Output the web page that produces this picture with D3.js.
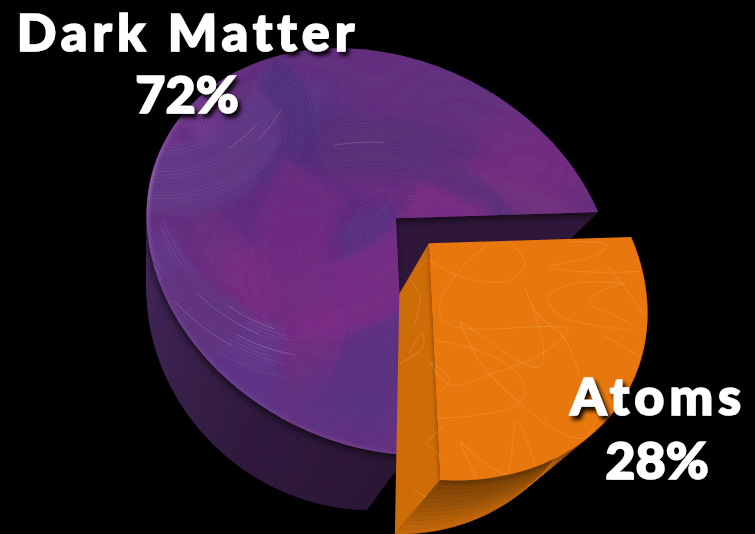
<!DOCTYPE html>
<html>
<head>
<meta charset="utf-8">
<script src="https://cdnjs.cloudflare.com/ajax/libs/d3/7.8.5/d3.min.js"></script>
<style>
html,body{margin:0;padding:0;background:#000;overflow:hidden}
svg{display:block}
text{font-family:Lato,"Open Sans",sans-serif;font-weight:900;fill:#fff;stroke:#fff;stroke-width:1.6;text-anchor:middle}
</style>
</head>
<body>
<svg id="chart" width="755" height="534"></svg>
<script>
// Share of the universe's matter
const categories = ["Dark Matter", "Atoms"];
const shares = [72, 28];

const svg = d3.select("#chart");
const defs = svg.append("defs");
svg.append("rect").attr("width", 755).attr("height", 534).attr("fill", "#000");

// Slice angles
const pie = d3.pie().sort(null).startAngle(Math.PI).endAngle(3 * Math.PI);
const arcs = pie(shares);
const [darkArc, atomArc] = arcs;
const disc = a => [Math.sin(a), -Math.cos(a)];

// Tilted view of the disc: a projective map solved from four rim anchors
function solve(A, b) {
  const n = b.length, M = A.map((r, i) => [...r, b[i]]);
  for (let i = 0; i < n; i++) {
    let p = i;
    for (let j = i + 1; j < n; j++) if (Math.abs(M[j][i]) > Math.abs(M[p][i])) p = j;
    [M[i], M[p]] = [M[p], M[i]];
    for (let j = 0; j < n; j++) {
      if (j === i) continue;
      const f = M[j][i] / M[i][i];
      for (let k = i; k <= n; k++) M[j][k] -= f * M[i][k];
    }
  }
  return M.map((r, i) => r[n] / r[i]);
}
function projective(src, dst) {
  const A = [], b = [];
  src.forEach(([x, y], i) => {
    const [u, v] = dst[i];
    A.push([x, y, 1, 0, 0, 0, -u * x, -u * y]); b.push(u);
    A.push([0, 0, 0, x, y, 1, -v * x, -v * y]); b.push(v);
  });
  const h = solve(A, b);
  return ([x, y]) => {
    const w = h[6] * x + h[7] * y + 1;
    return [(h[0] * x + h[1] * y + h[2]) / w, (h[3] * x + h[4] * y + h[5]) / w];
  };
}
const aEnd = darkArc.endAngle, aStart = darkArc.startAngle;
const project = projective(
  [disc(aEnd), disc(aStart), disc(aEnd + Math.PI), disc(aStart + Math.PI)],
  [[598, 212], [407, 455], [147, 226], [388, 53]]
);

// Slice pulled out of the pie, and the thickness of the solid
const pull = [33, 25];
const topPoint = (a, r, off) => {
  const d = disc(a), p = project([d[0] * r, d[1] * r]);
  return off ? [p[0] + off[0], p[1] + off[1]] : p;
};
const extrude = ([x, y], t = 1) => [
  x + t * (-0.1003 * x - 0.0615 * y + 28.5),
  y + t * (-0.0412 * x + 0.017 * y + 64)
];
const rim = (a0, a1, n, off) => d3.range(n + 1).map(i => topPoint(a0 + (a1 - a0) * i / n, 1, off));
const line = d3.line();

const darkRim = rim(darkArc.startAngle, darkArc.endAngle, 180);
const atomRim = rim(atomArc.startAngle, atomArc.endAngle, 70, pull);
const darkApex = topPoint(0, 0);
const atomApex = topPoint(0, 0, pull);

// Outer wall coloured along the rim
function wallAlong(g, pts, color) {
  for (let i = 0; i < pts.length - 1; i++) {
    const q = [pts[i], pts[i + 1], extrude(pts[i + 1]), extrude(pts[i])];
    const c = color(i / (pts.length - 1));
    g.append("path").attr("d", line(q) + "Z").attr("fill", c).attr("stroke", c).attr("stroke-width", 0.7);
  }
}
// Outer wall coloured down its height, one continuous band at a time
function wallDown(g, pts, bands, color) {
  d3.range(bands).forEach(b => {
    const upper = pts.map(p => extrude(p, b / bands));
    const lower = pts.map(p => extrude(p, (b + 1) / bands)).reverse();
    const c = color((b + 0.5) / bands);
    g.append("path").attr("d", line([...upper, ...lower]) + "Z").attr("fill", c).attr("stroke", c).attr("stroke-width", 0.6);
  });
}

// Soft shadows and blurs
function addFilter(id, pad) {
  return defs.append("filter").attr("id", id)
    .attr("x", -pad + "%").attr("y", -pad + "%").attr("width", 100 + 2 * pad + "%").attr("height", 100 + 2 * pad + "%");
}
addFilter("shade", 12).append("feDropShadow").attr("dx", -1).attr("dy", 3).attr("stdDeviation", 3.5).attr("flood-color", "#000").attr("flood-opacity", 0.6);
addFilter("shadeSoft", 12).append("feDropShadow").attr("dx", 0).attr("dy", 2).attr("stdDeviation", 2).attr("flood-color", "#2a1400").attr("flood-opacity", 0.42);
addFilter("soft", 40).append("feGaussianBlur").attr("stdDeviation", 24);
addFilter("stroke", 10).append("feGaussianBlur").attr("stdDeviation", 0.35);
addFilter("sector", 15).append("feGaussianBlur").attr("stdDeviation", 6);
addFilter("edgeBlur", 10).append("feGaussianBlur").attr("stdDeviation", 1.4);
addFilter("labelShadow", 25).append("feDropShadow").attr("dx", 3).attr("dy", 4).attr("stdDeviation", 2.2).attr("flood-color", "#000").attr("flood-opacity", 0.95);

const darkTopPath = line([darkApex, ...darkRim]) + "Z";
const atomTopPath = line([atomApex, ...atomRim]) + "Z";
defs.append("clipPath").attr("id", "darkClip").append("path").attr("d", darkTopPath);
const atomClip = defs.append("clipPath").attr("id", "atomClip");
atomClip.append("path").attr("d", atomTopPath);

// Dark matter: outer wall, the dark inner faces, then the top
const wallColor = d3.scaleLinear().domain([0, 0.12, 0.32, 0.5, 1])
  .range(["#2c1636", "#311a3e", "#472a60", "#4a2c66", "#2e1838"]);
wallAlong(svg.append("g"), darkRim, wallColor);
const darkEnd = darkRim[darkRim.length - 1];
const innerFace = [darkApex, darkEnd, extrude(darkEnd), topPoint(aStart, 0.45)];
svg.append("path").attr("d", line(innerFace) + "Z").attr("fill", "#2f1739");

const darkTop = svg.append("g").attr("filter", "url(#shade)");
darkTop.append("path").attr("d", darkTopPath).attr("fill", "#66307f");

// Painted surface: colour patches, then layered brush strokes
const paint = darkTop.append("g").attr("clip-path", "url(#darkClip)");
const patches = [
  [320, 280, 110, 70, "#7a2e84", 1], [180, 130, 30, 60, "#7c3a92", 0.8],
  [530, 165, 65, 45, "#752c80", 0.9], [310, 125, 45, 40, "#50327e", 0.9],
  [450, 105, 60, 25, "#5a3179", 0.6], [345, 410, 65, 30, "#5c3585", 0.9]
];
paint.append("g").attr("filter", "url(#soft)").selectAll("ellipse").data(patches).join("ellipse")
  .attr("cx", d => d[0]).attr("cy", d => d[1]).attr("rx", d => d[2]).attr("ry", d => d[3])
  .attr("fill", d => d[4]).attr("opacity", d => d[5]);

// Each swirl: centre, radius range, angle range, underpaint, bristle colour, bristle opacity
const swirls = [
  [420, 60, 150, 250, 100, 165, "#5e2f81", "#44246a", 0.28],
  [370, 350, 175, 235, -105, -62, "#5c3179", "#452668", 0.28],
  [430, 410, 205, 250, -95, -25, "#73307f", "#8a4a98", 0.28],
  [350, 360, 190, 222, -75, -25, "#5a3179", "#462869", 0.3],
  [470, 370, 235, 285, -72, -30, "#6e2c7e", "#84409a", 0.22],
  [160, 40, 105, 175, 15, 105, "#613a86", "#8a66ac", 0.26],
  [232, 130, 50, 85, -60, 60, "#51317b", "#3f2566", 0.36],
  [150, 100, 30, 75, -60, 40, "#713a8c", "#9370b2", 0.22],
  [180, 300, 170, 232, -25, 36, "#5b3584", "#42286c", 0.3],
  [100, 440, 110, 190, -50, 15, "#613687", "#7a4aa4", 0.22],
  [300, 130, 135, 208, 22, 90, "#7a2e85", "#8e3f96", 0.24],
  [420, 250, 90, 165, 150, 215, "#722f82", "#622a78", 0.26],
  [330, 160, 175, 225, 105, 158, "#64378a", "#a78cc0", 0.24],
  [130, 230, 60, 150, 35, 95, "#63357f", "#4b2a70", 0.26]
];
const toRad = Math.PI / 180;
const sectorArc = d3.arc();
swirls.forEach(([cx, cy, r0, r1, a0, a1, base, col, op]) => {
  paint.append("path")
    .attr("d", sectorArc({ innerRadius: r0, outerRadius: r1, startAngle: (a0 + 90) * toRad, endAngle: (a1 + 90) * toRad }))
    .attr("transform", `translate(${cx},${cy})`)
    .attr("fill", base).attr("opacity", 0.8).attr("filter", "url(#sector)");
  const bristles = paint.append("g").attr("filter", "url(#stroke)");
  let r = r0;
  for (let k = 0; r < r1; k++) {
    const s0 = a0 + 4 * Math.sin(k * 1.7), s1 = a1 - 4 * Math.cos(k * 2.3);
    const p = d3.path();
    p.moveTo(cx + r * Math.cos(s0 * toRad), cy + r * Math.sin(s0 * toRad));
    p.arc(cx, cy, r, s0 * toRad, s1 * toRad);
    bristles.append("path").attr("d", p.toString()).attr("fill", "none")
      .attr("stroke", col).attr("stroke-opacity", op * (0.55 + 0.45 * Math.sin(k * 0.9)))
      .attr("stroke-width", 1);
    r += 2.4 + 1.6 * Math.abs(Math.sin(k * 1.31));
  }
});

// A few pale bristles that catch the light
const glints = [
  [330, 160, 178, 108, 125], [330, 160, 188, 112, 135], [330, 160, 198, 100, 118],
  [330, 160, 210, 118, 138], [160, 40, 128, 40, 58], [160, 40, 140, 30, 46],
  [370, 350, 208, -100, -86], [300, 130, 190, 45, 58]
];
const glintPath = d3.path();
glints.forEach(([cx, cy, r, a0, a1]) => {
  glintPath.moveTo(cx + r * Math.cos(a0 * toRad), cy + r * Math.sin(a0 * toRad));
  glintPath.arc(cx, cy, r, a0 * toRad, a1 * toRad);
});
paint.append("path").attr("d", glintPath.toString()).attr("fill", "none")
  .attr("stroke", "#c9b4da").attr("stroke-opacity", 0.28).attr("stroke-width", 0.9);

// Pale bevel on the upper-left rim
const bevel = defs.append("linearGradient").attr("id", "bevel").attr("gradientUnits", "userSpaceOnUse")
  .attr("x1", 150).attr("y1", 260).attr("x2", 300).attr("y2", 60);
bevel.append("stop").attr("offset", 0).attr("stop-color", "#9a6cb6").attr("stop-opacity", 0.2);
bevel.append("stop").attr("offset", 0.25).attr("stop-color", "#a468c0").attr("stop-opacity", 0.8);
bevel.append("stop").attr("offset", 0.7).attr("stop-color", "#7b4a9c").attr("stop-opacity", 0);
paint.append("path").attr("d", line(darkRim)).attr("fill", "none").attr("stroke", "url(#bevel)")
  .attr("stroke-width", 5).attr("filter", "url(#edgeBlur)");

// Atoms: outer wall, cut face, top with its scribbled pattern
const atomWall = d3.scaleLinear().domain([0, 0.45, 1]).range(["#7a4205", "#965208", "#c9690b"]);
wallDown(svg.append("g"), atomRim, 12, atomWall);
const atomEnd = atomRim[atomRim.length - 1];
const atomCut = [atomApex, atomEnd, extrude(atomEnd), extrude(atomApex)];
const cutPath = line(atomCut) + "Z";
svg.append("path").attr("d", cutPath).attr("fill", "#ce6c07");
atomClip.append("path").attr("d", cutPath);
svg.append("path").attr("d", atomTopPath).attr("fill", "#e8780a").attr("filter", "url(#shadeSoft)");

const scribbles = [
  [[235, 240], [350, 295], [480, 300], [525, 250], [490, 195]],
  [[410, 195], [330, 270], [270, 370], [280, 420], [340, 445], [620, 440], [655, 450], [560, 530], [430, 580], [300, 615], [240, 545], [300, 600], [270, 635]],
  [[250, 480], [380, 510], [480, 560], [525, 630], [490, 680], [380, 705], [270, 715]],
  [[330, 425], [400, 470], [500, 540], [570, 560], [580, 500], [550, 390], [525, 325], [560, 400], [640, 470], [690, 590]],
  [[330, 425], [400, 560], [500, 660], [610, 745], [700, 775], [740, 720]],
  [[870, 275], [700, 275], [600, 260], [740, 225], [770, 195], [660, 185]],
  [[825, 310], [680, 310], [595, 350], [620, 400], [700, 430], [855, 445], [800, 410], [720, 370], [740, 340], [825, 310]],
  [[775, 260], [830, 330], [880, 400]],
  [[760, 465], [870, 530]],
  [[225, 790], [280, 740]],
  [[225, 790], [280, 835]],
  [[330, 785], [380, 900]],
  [[330, 785], [420, 860], [470, 880], [500, 720], [560, 870]],
  [[150, 550], [220, 500], [215, 460], [180, 520]],
  [[190, 930], [250, 970], [190, 1000]],
  [[180, 300], [210, 350], [190, 440]]
];
const scribbleX = d3.scaleLinear().domain([0, 900]).range([350, 650]);
const scribbleY = d3.scaleLinear().domain([0, 1062]).range([180, 534]);
const scribbleLine = d3.line().x(d => scribbleX(d[0])).y(d => scribbleY(d[1])).curve(d3.curveCatmullRom.alpha(0.5));
svg.append("g").attr("clip-path", "url(#atomClip)").selectAll("path").data(scribbles).join("path")
  .attr("d", scribbleLine).attr("fill", "none").attr("stroke", "#f4a95a").attr("stroke-opacity", 0.3).attr("stroke-width", 1.1);

// Labels
const labelSpots = [
  { x: 188, y1: 51, y2: 113, size: 52, spacing: 5 },
  { x: 658, y1: 415, y2: 479, size: 52, spacing: 5 }
];
const labels = svg.append("g").attr("filter", "url(#labelShadow)");
categories.forEach((name, i) => {
  const s = labelSpots[i];
  labels.append("text").attr("x", s.x).attr("y", s.y1).attr("font-size", s.size).attr("letter-spacing", s.spacing).text(name);
  labels.append("text").attr("x", s.x - 1).attr("y", s.y2).attr("font-size", s.size).text(shares[i] + "%");
});
</script>
</body>
</html>
